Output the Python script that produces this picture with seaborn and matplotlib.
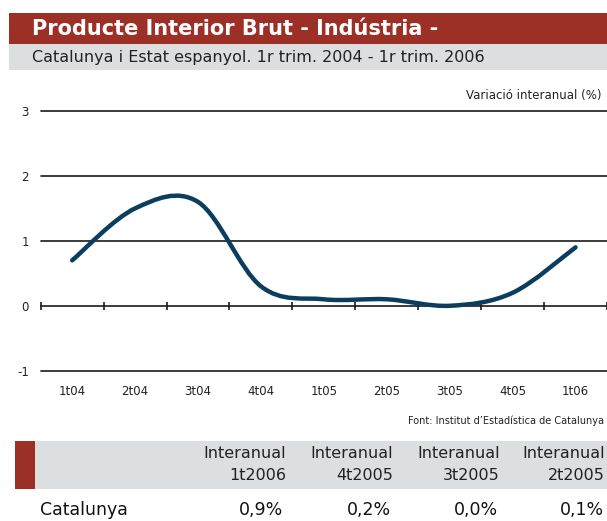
import numpy as np
import matplotlib
matplotlib.use('Agg')
import matplotlib.pyplot as plt
from matplotlib.patches import Rectangle, PathPatch
from matplotlib.path import Path
import seaborn as sns

# data
quarters = ['1t04', '2t04', '3t04', '4t04', '1t05', '2t05', '3t05', '4t05', '1t06']
pib_industria = [0.7, 1.5, 1.6, 0.3, 0.1, 0.1, 0.0, 0.2, 0.9]
y_ticks = [-1, 0, 1, 2, 3]

table_heads = ['Interanual\n1t2006', 'Interanual\n4t2005', 'Interanual\n3t2005', 'Interanual\n2t2005']
table_row = 'Catalunya'
table_vals = ['0,9%', '0,2%', '0,0%', '0,1%']

sns.set_theme(style='white')
plt.rcParams['font.family'] = ['DejaVu Sans']

W, H = 607, 521
fig = plt.figure(figsize=(W / 100, H / 100), dpi=100)
fig.patch.set_facecolor('white')

red = '#9c3026'
grey = '#dddee0'
navy = '#0c3d5f'


def fx(x):
    return x / W


def fy(y):
    return 1 - y / H


def box(x0, y0, x1, y1, color):
    fig.patches.append(Rectangle((fx(x0), fy(y1)), fx(x1) - fx(x0), fy(y0) - fy(y1),
                                 transform=fig.transFigure, color=color, lw=0, zorder=0))


# header bars
box(9, 13, 607, 44, red)
box(9, 44, 607, 70, grey)
fig.text(fx(32), fy(29), 'Producte Interior Brut - Indústria -', color='white',
         fontsize=15, fontweight='bold', va='center', ha='left')
fig.text(fx(32), fy(57.5), 'Catalunya i Estat espanyol. 1r trim. 2004 - 1r trim. 2006',
         color='#222222', fontsize=11.5, va='center', ha='left')
fig.text(fx(602), fy(95), 'Variació interanual (%)', color='#222222', fontsize=8.5,
         va='center', ha='right')

# chart area
ax = fig.add_axes([fx(40.7), fy(370.7), fx(607) - fx(40.7), fy(111) - fy(370.7)])
ax.set_xlim(-0.5, len(quarters) - 0.5)
ax.set_ylim(-1, 3)
ax.set_facecolor('none')
sns.despine(ax=ax, left=True, bottom=True)

for v in y_ticks:
    ax.axhline(v, color='#1a1a1a', lw=1.2, clip_on=False, zorder=1)
edges = np.arange(len(quarters) + 1) - 0.5
ax.vlines(edges, -0.062, 0.062, color='#1a1a1a', lw=1.2, clip_on=False, zorder=1)

ax.set_yticks(y_ticks)
ax.set_yticklabels([str(v) for v in y_ticks], fontsize=8.5, color='#222222')
ax.set_xticks(range(len(quarters)))
ax.set_xticklabels(quarters, fontsize=8.5, color='#222222')
ax.tick_params(axis='y', length=0, pad=8.5)
ax.tick_params(axis='x', length=0, pad=10)
ax.grid(False)

# smoothed line (bezier through the data points, like a spreadsheet "smooth line")
px = np.arange(len(pib_industria), dtype=float)
py = np.array(pib_industria, dtype=float)
pts = np.column_stack([px, py])
ext = np.vstack([pts[0], pts, pts[-1]])
verts = [tuple(pts[0])]
codes = [Path.MOVETO]
for i in range(len(pts) - 1):
    p_prev, p0, p1, p_next = ext[i], ext[i + 1], ext[i + 2], ext[i + 3]
    c1 = p0 + (p1 - p_prev) / 6
    c2 = p1 - (p_next - p0) / 6
    verts += [tuple(c1), tuple(c2), tuple(p1)]
    codes += [Path.CURVE4] * 3
ax.add_patch(PathPatch(Path(verts, codes), fill=False, edgecolor=navy, lw=3.2,
                       capstyle='round', joinstyle='round', zorder=3))

fig.text(fx(604), fy(421), 'Font: Institut d\u2019Estadística de Catalunya', color='#222222',
         fontsize=7, va='center', ha='right')

# summary table
box(15, 441, 35, 489, red)
box(35, 441, 607, 489, grey)
head_x = [286, 393, 500, 605]
val_x = [283, 391, 498, 604]
for hx, head in zip(head_x, table_heads):
    top, bottom = head.split('\n')
    fig.text(fx(hx), fy(453), top, color='#222222', fontsize=11.5, va='center', ha='right')
    fig.text(fx(hx), fy(476), bottom, color='#222222', fontsize=11.5, va='center', ha='right')
fig.text(fx(40), fy(510), table_row, color='#111111', fontsize=12.5, va='center', ha='left')
for vx, val in zip(val_x, table_vals):
    fig.text(fx(vx), fy(510), val, color='#111111', fontsize=12.5, va='center', ha='right')

fig.savefig('out.png', dpi=100)
